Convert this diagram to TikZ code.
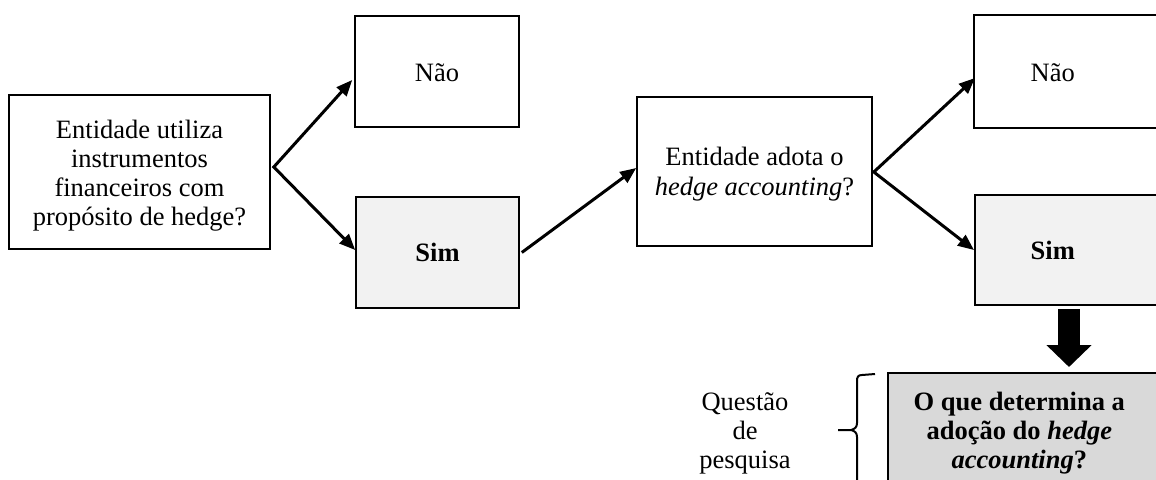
\documentclass[tikz,border=0pt]{standalone}
\usepackage{fontspec}
\setmainfont{Liberation Serif}
\usetikzlibrary{arrows.meta,calc}
\definecolor{simfill}{HTML}{F2F2F2}
\definecolor{qfill}{HTML}{D9D9D9}
\begin{document}
\begin{tikzpicture}[x=1pt,y=-1pt,
  txt/.style={font=\fontsize{26.5}{29}\selectfont, align=center},
  box/.style={txt, draw, line width=1.6pt, inner sep=0pt},
  arr/.style={line width=3pt, line join=miter, {Triangle[length=16pt,width=13pt]}-{Triangle[length=16pt,width=13pt]}},
  arrone/.style={line width=3pt, -{Triangle[length=16pt,width=13pt]}}]
\useasboundingbox (0,0) rectangle (1156,479);
\clip (0,0) rectangle (1156,479);
\node[box, minimum width=261pt, minimum height=154pt, font=\fontsize{26.5}{28.7}\selectfont] (box1) at (139.5,172)
  {\rule{0pt}{25.7pt}Entidade utiliza\\instrumentos\\financeiros com\\propósito de hedge?};
\node[box, minimum width=164pt, minimum height=111pt] (nao1) at (437,71.5) {\rule{0pt}{21pt}Não};
\node[box, fill=simfill, minimum width=163pt, minimum height=111pt, font=\fontsize{26.5}{29}\selectfont\bfseries] (sim1) at (437.5,252.5) {Sim};
\node[box, minimum width=235pt, minimum height=149pt, font=\fontsize{26.5}{30}\selectfont] (box2) at (754.5,171.5)
  {\rule{0pt}{23.3pt}Entidade adota o\\\textit{hedge accounting}?};
\node[box, anchor=west, minimum height=113pt] (nao2) at (973,71.5)
  {\makebox[230pt][l]{\makebox[158pt]{\rule{0pt}{21pt}Não}}};
\node[box, anchor=west, fill=simfill, minimum height=110pt, font=\fontsize{26.5}{29}\selectfont\bfseries] (sim2) at (974,250)
  {\makebox[230pt][l]{\makebox[156pt]{Sim}}};
\node[draw, line width=1.6pt, fill=qfill, anchor=north west, inner xsep=0pt, inner ysep=19pt] (q) at (887,372)
  {\begin{minipage}{263pt}\centering\fontsize{26.5}{29}\selectfont\bfseries
   O que determina a\\adoção do \textit{hedge}\\\textit{accounting}?\end{minipage}\hspace*{20pt}};
\node[txt] (lbl) at (745,433) {Questão\\de\\pesquisa};
% connectors
\coordinate (v1) at ($(box1.east)+(3,-5)$);
\coordinate (v2) at ($(box2.east)+(1,0.5)$);
\draw[arr] ($(nao1.west)+(-2,8.5)$) -- (v1) -- ($(sim1.west)+(0,-2.5)$);
\draw[arrone] ($(sim1.east)+(2,0)$) -- ($(box2.west)+(0,-3.5)$);
\draw[arr] ($(nao2.west)+(2,6.5)$) -- (v2) -- ($(sim2.west)+(0,0)$);
\draw[line width=22pt, -{Triangle[length=22pt,width=44pt]}] ($(sim2.south west)+(95,3)$) -- ($(q.north west)+(182,-5)$);
% brace
\draw[line width=2pt] ($(q.north west)+(-12,2)$) -- (862,375) .. controls (858,375) and (857,377) .. (857,381) -- (857,423)
  .. controls (857,427) and (855,429) .. (851,430) -- (838,430);
\draw[line width=2pt] (851,430) .. controls (855,431) and (857,433) .. (857,437) -- (857,495);
\end{tikzpicture}
\end{document}
